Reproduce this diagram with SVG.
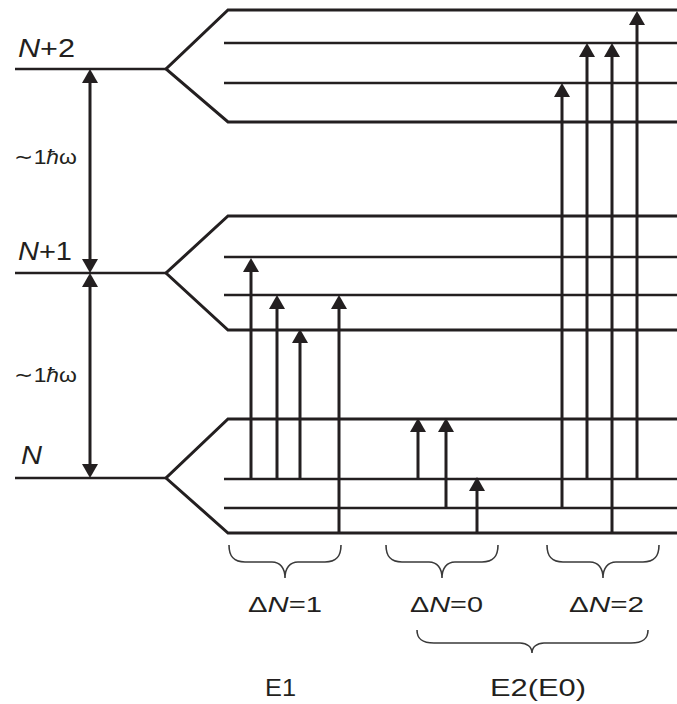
<svg xmlns="http://www.w3.org/2000/svg" width="677" height="704" viewBox="0 0 677 704">
<style>
.lv{fill:none;stroke:#231f20;stroke-width:2.6;stroke-linejoin:miter}
.ch{fill:none;stroke:#231f20;stroke-width:3;stroke-linejoin:miter}
.ar{fill:none;stroke:#231f20;stroke-width:3;marker-end:url(#ah)}
.da{fill:none;stroke:#231f20;stroke-width:3;marker-start:url(#ah);marker-end:url(#ah)}
.br{fill:none;stroke:#3a3a3a;stroke-width:1.6}
text{font-family:"Liberation Sans",Arial,sans-serif;fill:#231f20}
.lb{font-size:26px}
.hw{font-size:21px}
.dn{font-size:22px}
.e{font-size:24px}
.i{font-style:italic}
</style>
<defs>
<marker id="ah" viewBox="0 0 14 16" refX="2" refY="8" markerWidth="14" markerHeight="16" markerUnits="userSpaceOnUse" orient="auto-start-reverse">
<path d="M0,0 L14,8 L0,16 z" fill="#231f20"/>
</marker>
</defs>
<g id="level-N2">
<path class="lv" d="M15,69 L166,69"/>
<path class="ch" d="M677,10 L228,10 L166,69 L228,122 L677,122"/>
<path class="lv" d="M224,43 L677,43 M224,83 L677,83"/>
<text class="lb" x="18" y="57" textLength="57" lengthAdjust="spacingAndGlyphs"><tspan class="i">N</tspan>+2</text>
</g>
<g id="level-N1">
<path class="lv" d="M15,273 L166,273"/>
<path class="ch" d="M677,216 L228,216 L166,273 L228,330 L677,330"/>
<path class="lv" d="M224,257 L677,257 M224,295 L677,295"/>
<text class="lb" x="18" y="260" textLength="54" lengthAdjust="spacingAndGlyphs"><tspan class="i">N</tspan>+1</text>
</g>
<g id="level-N">
<path class="lv" d="M15,478 L166,478"/>
<path class="ch" d="M677,419 L228,419 L166,478 L228,533 L677,533"/>
<path class="lv" d="M224,479 L677,479 M224,508 L677,508"/>
<text class="lb i" x="21" y="464" textLength="21" lengthAdjust="spacingAndGlyphs">N</text>
</g>
<g id="spacing-labels">
<text class="hw" x="14" y="164" textLength="63" lengthAdjust="spacingAndGlyphs">∼1<tspan class="i">ħ</tspan>ω</text>
<text class="hw" x="14" y="382" textLength="63" lengthAdjust="spacingAndGlyphs">∼1<tspan class="i">ħ</tspan>ω</text>
</g>
<g id="connectors">
<path class="da" d="M90,81 L90,261"/>
<path class="da" d="M90,285 L90,466"/>
<path class="ar" d="M251,479 L251,270"/>
<path class="ar" d="M277,479 L277,307"/>
<path class="ar" d="M300,479 L300,341"/>
<path class="ar" d="M339,533 L339,307"/>
<path class="ar" d="M418,479 L418,430"/>
<path class="ar" d="M446,508 L446,430"/>
<path class="ar" d="M477,533 L477,489"/>
<path class="ar" d="M562,508 L562,95"/>
<path class="ar" d="M587,479 L587,55"/>
<path class="ar" d="M612,533 L612,55"/>
<path class="ar" d="M637,479 L637,23"/>
</g>
<g id="brace-dN1">
<path class="br" d="M229,545 C229,556 233,562 245,562 L272,562 C280,562 285,568 285,578 C285,568 290,562 298,562 L325,562 C337,562 341,556 341,545"/>
<text class="dn" x="248" y="612" textLength="74" lengthAdjust="spacingAndGlyphs">Δ<tspan class="i">N</tspan>=1</text>
</g>
<g id="brace-dN0">
<path class="br" d="M386,545 C386,556 390,562 402,562 L429,562 C437,562 442,568 442,578 C442,568 447,562 455,562 L482,562 C494,562 498,556 498,545"/>
<text class="dn" x="410" y="612" textLength="73" lengthAdjust="spacingAndGlyphs">Δ<tspan class="i">N</tspan>=0</text>
</g>
<g id="brace-dN2">
<path class="br" d="M547,545 C547,556 551,562 563,562 L590,562 C598,562 603,568 603,578 C603,568 608,562 616,562 L643,562 C655,562 659,556 659,545"/>
<text class="dn" x="569" y="612" textLength="75" lengthAdjust="spacingAndGlyphs">Δ<tspan class="i">N</tspan>=2</text>
</g>
<g id="label-E1">
<text class="e" x="265" y="696" textLength="31" lengthAdjust="spacingAndGlyphs">E1</text>
</g>
<g id="brace-E2">
<path class="br" d="M417,630 C417,639 422,643 434,643 L520,643 C527,643 532,647 532,653 C532,647 537,643 544,643 L631,643 C643,643 648,639 648,630"/>
<text class="e" x="490" y="696" textLength="96" lengthAdjust="spacingAndGlyphs">E2(E0)</text>
</g>
</svg>
